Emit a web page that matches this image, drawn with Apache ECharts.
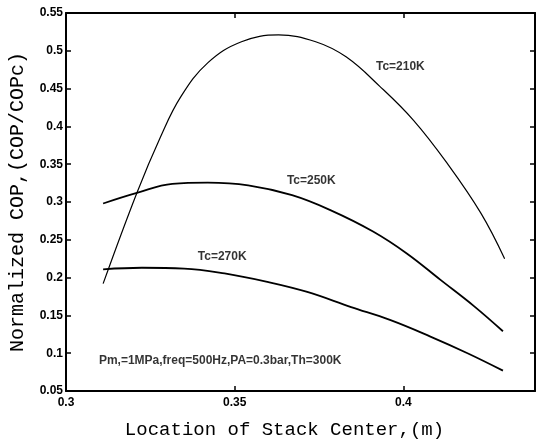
<!DOCTYPE html>
<html><head><meta charset="utf-8">
<script src="https://cdn.jsdelivr.net/npm/echarts@6/dist/echarts.min.js"></script>
<style>html,body{margin:0;padding:0;background:#fff}#c{width:537px;height:440px}</style>
</head><body><div id="c"></div>
<script>
// Tc = 210 K
const x210 = [0.311, 0.321, 0.328, 0.334, 0.342, 0.352, 0.363, 0.374, 0.383, 0.393, 0.403, 0.413, 0.423, 0.430];
const y210 = [0.192, 0.312, 0.386, 0.439, 0.484, 0.512, 0.521, 0.512, 0.492, 0.453, 0.408, 0.351, 0.285, 0.225];
// Tc = 250 K
const x250 = [0.311, 0.321, 0.3315, 0.342, 0.354, 0.367, 0.3785, 0.391, 0.401, 0.411, 0.421, 0.4295];
const y250 = [0.298, 0.312, 0.324, 0.3255, 0.322, 0.309, 0.289, 0.261, 0.232, 0.197, 0.162, 0.129];
// Tc = 270 K
const x270 = [0.311, 0.3225, 0.335, 0.347, 0.360, 0.3715, 0.3845, 0.396, 0.408, 0.419, 0.4295];
const y270 = [0.211, 0.213, 0.212, 0.2055, 0.194, 0.181, 0.161, 0.144, 0.122, 0.100, 0.077];
// tick labels
const xTickLabels = [0.3, 0.35, 0.4];
// in-plot text annotations (data coordinates)
const noteText = ['Tc=210K', 'Tc=250K', 'Tc=270K', 'Pm,=1MPa,freq=500Hz,PA=0.3bar,Th=300K'];
const noteX = [0.3991, 0.3727, 0.3463, 0.3457];
const noteY = [0.4786, 0.3277, 0.2272, 0.0896];

const zip = (xs, ys) => xs.map((x, i) => [x, ys[i]]);
const chart = echarts.init(document.getElementById('c'), null, {renderer: 'canvas'});
const axisLineStyle = {color: '#000', width: 2};
const tickStyle = {inside: true, length: 5, lineStyle: {color: '#000', width: 1.5}};
const labelFont = {color: '#000', fontFamily: 'Liberation Sans', fontWeight: 'bold', fontSize: 12};
chart.setOption({
  animation: false,
  backgroundColor: '#fff',
  grid: {left: 66, top: 13, width: 469, height: 378, containLabel: false, outerBoundsMode: 'none'},
  xAxis: [{
    type: 'value', min: 0.3, max: 0.439, interval: 0.05,
    axisLine: {show: true, lineStyle: axisLineStyle, onZero: false},
    axisTick: tickStyle, splitLine: {show: false},
    axisLabel: Object.assign({margin: 6, formatter: v => xTickLabels.some(t => Math.abs(t - v) < 1e-9) ? String(+v.toFixed(2)) : ''}, labelFont),
    name: 'Location of Stack Center,(m)', nameLocation: 'middle', nameGap: 29,
    nameTextStyle: {color: '#000', fontFamily: 'Liberation Mono', fontSize: 19, padding: [0, 32, 0, 0]}
  }, {
    type: 'value', position: 'top', min: 0.3, max: 0.439, interval: 0.05,
    axisLine: {show: true, lineStyle: axisLineStyle, onZero: false},
    axisTick: tickStyle, axisLabel: {show: false}, splitLine: {show: false}
  }],
  yAxis: [{
    type: 'value', min: 0.05, max: 0.55, interval: 0.05,
    axisLine: {show: true, lineStyle: axisLineStyle, onZero: false},
    axisTick: tickStyle, splitLine: {show: false},
    axisLabel: Object.assign({margin: 3}, labelFont),
    name: 'Normalized COP,(COP/COPc)', nameLocation: 'middle', nameGap: 38,
    nameTextStyle: {color: '#000', fontFamily: 'Liberation Mono', fontSize: 20}
  }, {
    type: 'value', position: 'right', min: 0.05, max: 0.55, interval: 0.05,
    axisLine: {show: true, lineStyle: axisLineStyle, onZero: false},
    axisTick: tickStyle, axisLabel: {show: false}, splitLine: {show: false}
  }],
  series: [
    {type: 'line', data: zip(x210, y210), smooth: 0.4, symbol: 'none', lineStyle: {color: '#000', width: 1.2}},
    {type: 'line', data: zip(x250, y250), smooth: 0.4, symbol: 'none', lineStyle: {color: '#000', width: 1.8}},
    {type: 'line', data: zip(x270, y270), smooth: 0.4, symbol: 'none', lineStyle: {color: '#000', width: 1.8}},
    {type: 'scatter', symbolSize: 0, silent: true,
      data: noteText.map((t, i) => ({value: [noteX[i], noteY[i]], name: t})),
      label: {show: true, position: 'inside', formatter: p => p.name, color: '#000',
        fontFamily: 'Liberation Sans', fontWeight: 'bold', fontSize: 12}}
  ]
});
</script>
</body></html>
